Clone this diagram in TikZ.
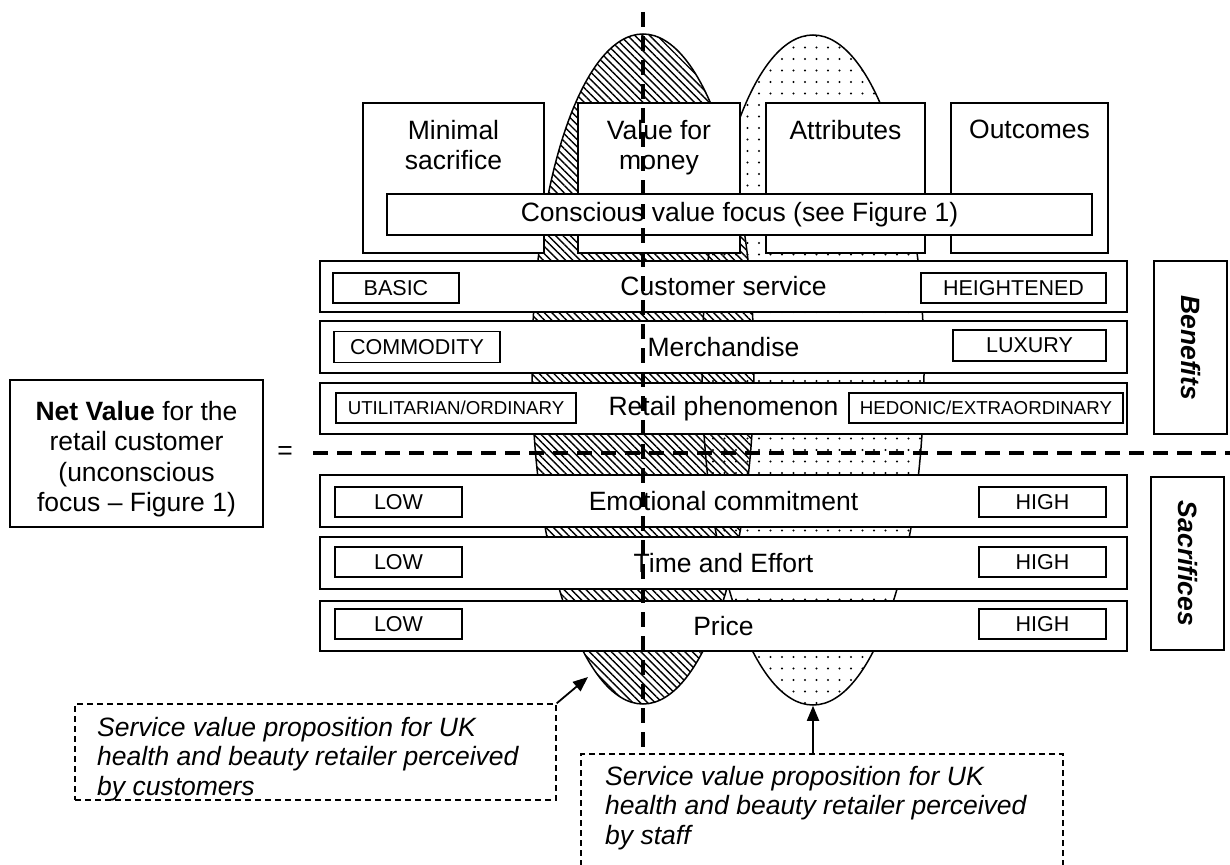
\documentclass[tikz,border=0pt]{standalone}
\usepackage{fontspec}
\setmainfont{Liberation Sans}
\usetikzlibrary{patterns.meta,arrows.meta,shapes.geometric}
\begin{document}
\begin{tikzpicture}[x=1pt,y=-1pt,
  box/.style={draw, line width=1.5pt, fill=white, inner sep=0pt},
  big/.style={font=\fontsize{26.5}{30.5}\selectfont},
  lab/.style={box, font=\fontsize{21.5}{24}\selectfont},
  slab/.style={box, font=\fontsize{18.7}{22}\selectfont},
  row/.style={box, big, minimum width=807pt},
  topbox/.style={box, minimum height=150pt},
  toptext/.style={big, anchor=north, align=center, inner sep=0pt},
  side/.style={box, minimum width=73pt, minimum height=173pt},
  divider/.style={line width=3.5pt, dash pattern=on 15pt off 9pt},
  note/.style={draw, line width=1.3pt, dash pattern=on 6pt off 4pt, fill=white, inner sep=0pt},
  notetext/.style={font=\fontsize{26.5}{29.5}\selectfont\itshape, anchor=north west, align=left, inner sep=0pt},
  pointer/.style={line width=1.8pt, -{Triangle[length=15pt,width=12pt]}},
  hatched/.style={ellipse, draw, line width=1.5pt, inner sep=0pt, minimum width=222pt, minimum height=670pt,
    pattern={Lines[angle=-45,distance=5.2pt,line width=1.4pt]}},
  dotted/.style={ellipse, draw, line width=1.5pt, inner sep=0pt, minimum width=222pt, minimum height=670pt,
    pattern={Dots[distance=11.5pt,radius=1.2pt]}}
]
\path[use as bounding box] (0,0) rectangle (1230,864);
\clip (0,0) rectangle (1230,864);

% ellipses
\node[hatched] (ell1) at (643,369) {};
\node[dotted] (ell2) at (813,370) {};

% top boxes
\node[topbox, minimum width=181pt] (ms) at (453.5,178) {};
\node[topbox, minimum width=162pt] (vm) at (659,178) {};
\node[topbox, minimum width=159pt] (at) at (845.5,178) {};
\node[topbox, minimum width=157pt] (oc) at (1029.5,178) {};
\node[toptext] (mst) at (453.5,120) {Minimal\\sacrifice};
\node[toptext] (vmt) at (659,120) {Value for\\money};
\node[toptext] (att) at (845.5,120) {Attributes};
\node[toptext] (oct) at (1029.5,120) {Outcomes};
\node[box, big, minimum width=705pt, minimum height=41pt] (cvf) at (739.5,214.5) {Conscious value focus (see Figure 1)};

% rows
\node[row, minimum height=51pt] (cs) at (723.5,286.5) {Customer service};
\node[row, minimum height=52pt] (me) at (723.5,347) {Merchandise};
\node[row, minimum height=51pt] (rp) at (723.5,408.5) {Retail phenomenon};
\node[row, minimum height=52pt] (ec) at (723.5,501) {Emotional commitment};
\node[row, minimum height=52pt] (te) at (723.5,563) {Time and Effort};
\node[row, minimum height=50pt] (pr) at (723.5,626) {Price};

% row labels
\node[lab, minimum width=126pt, minimum height=30pt] (basic) at (396,288) {BASIC};
\node[lab, minimum width=185pt, minimum height=30pt] (heig) at (1013.5,288) {HEIGHTENED};
\node[lab, minimum width=166pt, minimum height=31pt] (comm) at (417,347) {COMMODITY};
\node[lab, minimum width=153pt, minimum height=31pt] (luxu) at (1029.5,345.5) {LUXURY};
\node[slab, minimum width=240pt, minimum height=30pt] (util) at (456,408) {UTILITARIAN/ORDINARY};
\node[slab, minimum width=274pt, minimum height=30pt] (hedo) at (986,408) {HEDONIC/EXTRAORDINARY};
\node[lab, minimum width=127pt, minimum height=30pt] (low1) at (398.5,502) {LOW};
\node[lab, minimum width=127pt, minimum height=30pt] (high1) at (1042.5,502) {HIGH};
\node[lab, minimum width=127pt, minimum height=30pt] (low2) at (398.5,562) {LOW};
\node[lab, minimum width=127pt, minimum height=30pt] (high2) at (1042.5,562) {HIGH};
\node[lab, minimum width=127pt, minimum height=30pt] (low3) at (398.5,624) {LOW};
\node[lab, minimum width=127pt, minimum height=30pt] (high3) at (1042.5,624) {HIGH};

% side boxes
\node[side] (ben) at (1190.5,347.5) {};
\node[rotate=-90, font=\fontsize{26.5}{30.5}\selectfont\bfseries\itshape] (bent) at (ben.center) {Benefits};
\node[side] (sac) at (1187.5,563.5) {};
\node[rotate=-90, font=\fontsize{26.5}{30.5}\selectfont\bfseries\itshape] (sact) at (sac.center) {Sacrifices};

% net value
\node[box, minimum width=253pt, minimum height=147pt] (nv) at (136.5,453.5) {};
\node[big, align=center, inner sep=0pt] (nvt) at (136.5,459)
  {\textbf{Net Value} for the\\retail customer\\(unconscious\\focus – Figure 1)};
\node[big] (eq) at (285,453) {=};

% dashed dividers
\coordinate (vtop) at (643,12);
\coordinate (vbot) at (643,762);
\coordinate (hl) at (313,453);
\coordinate (hr) at (1232,453);
\draw[divider] (hl) -- (hr);
\draw[divider] (vtop) -- (vbot);

% notes
\node[note, minimum width=481pt, minimum height=96pt] (cust) at (315.5,752) {};
\node[notetext] (custt) at (97,717) {Service value proposition for UK\\health and beauty retailer perceived\\by customers};
\node[note, minimum width=482pt, minimum height=130pt] (staff) at (822,819) {};
\node[notetext] (stafft) at (605,766) {Service value proposition for UK\\health and beauty retailer perceived\\by staff};

\coordinate (custtip) at (588,677);
\draw[pointer] (cust.north east) -- (custtip);
\draw[pointer] (staff.north -| ell2.south) -- (ell2.south);
\end{tikzpicture}
\end{document}
